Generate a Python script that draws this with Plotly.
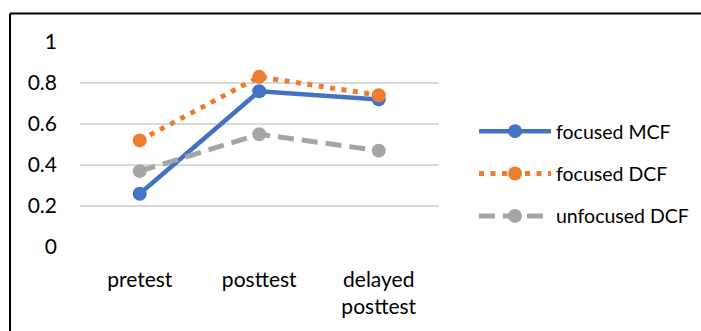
import plotly.graph_objects as go

# Test phases and mean scores per feedback group
phases = ["pretest", "posttest", "delayed<br>posttest"]
focused_mcf = [0.26, 0.76, 0.72]
focused_dcf = [0.52, 0.83, 0.74]
unfocused_dcf = [0.37, 0.55, 0.47]
y_ticks = [0, 0.2, 0.4, 0.6, 0.8, 1]
y_labels = ["0", "0.2", "0.4", "0.6", "0.8", "1"]

W, H = 701, 331
FONT = "Lato, Carlito, Calibri, sans-serif"

fig = go.Figure()
fig.add_trace(go.Scatter(
    x=phases, y=focused_mcf, name="focused MCF", mode="lines+markers",
    line=dict(color="#4472C4", width=4.5),
    marker=dict(size=14, color="#4472C4"), legendgroup="a"))
fig.add_trace(go.Scatter(
    x=phases, y=focused_dcf, name="focused DCF", mode="lines+markers",
    line=dict(color="#ED7D31", width=5, dash="5px,6.5px"),
    marker=dict(size=14, color="#ED7D31"), legendgroup="b"))
fig.add_trace(go.Scatter(
    x=phases, y=unfocused_dcf, name="unfocused DCF", mode="lines+markers",
    line=dict(color="#A5A5A5", width=5, dash="16px,8px"),
    marker=dict(size=14, color="#A5A5A5"), legendgroup="c"))

# outer chart frame (top and left edges visible)
fig.add_shape(type="line", xref="paper", yref="paper",
              x0=10 / W, x1=1.02, y0=1 - 13.5 / H, y1=1 - 13.5 / H,
              line=dict(color="black", width=2))
fig.add_shape(type="line", xref="paper", yref="paper",
              x0=10 / W, x1=10 / W, y0=-0.02, y1=1 - 13.5 / H,
              line=dict(color="black", width=2))

fig.update_layout(
    width=W, height=H,
    margin=dict(l=0, r=0, t=0, b=0, autoexpand=False),
    paper_bgcolor="white", plot_bgcolor="white",
    font=dict(family=FONT, size=20, color="#000000"),
    xaxis=dict(domain=[80 / W, 438.5 / W], range=[-0.5, 2.5],
               showgrid=False, showline=False, automargin=False,
               zeroline=False, ticks="", ticklabelstandoff=18,
               tickfont=dict(size=21)),
    yaxis=dict(domain=[1 - 247 / H, 1 - 42 / H], range=[0, 1],
               tickvals=y_ticks, ticktext=y_labels, showgrid=True,
               gridcolor="#D9D9D9", gridwidth=1.5, zeroline=False,
               automargin=False,
               showline=False, ticks="", ticklabelstandoff=22,
               tickfont=dict(size=21)),
    legend=dict(x=474 / W, y=1 - 112 / H, xanchor="left", yanchor="top",
                itemwidth=72, tracegroupgap=14,
                font=dict(size=19.5), bgcolor="rgba(0,0,0,0)"),
    showlegend=True,
)

fig.write_html("out.html")
